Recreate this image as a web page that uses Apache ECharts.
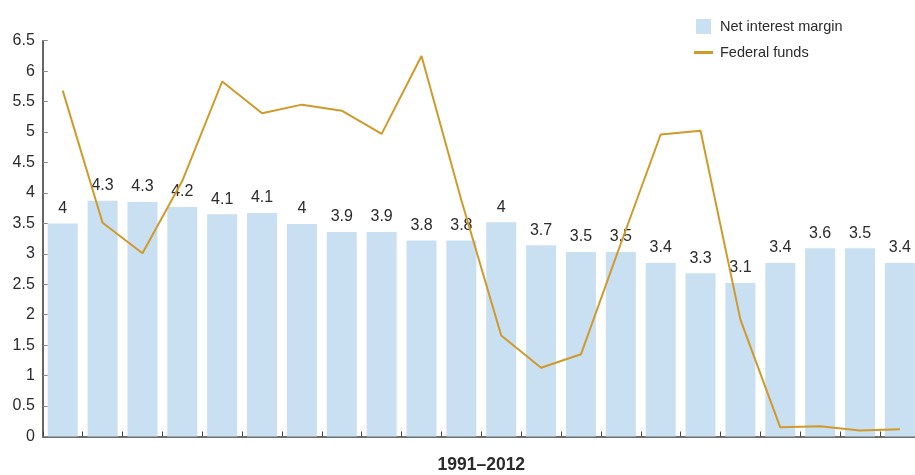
<!DOCTYPE html>
<html>
<head>
<meta charset="utf-8">
<script src="https://cdn.jsdelivr.net/npm/echarts@6/dist/echarts.min.js"></script>
<style>
html,body{margin:0;padding:0;background:#fff;}
#chart{width:915px;height:475px;}
</style>
</head>
<body>
<div id="chart"></div>
<script>
// years 1991-2012
var years = ['1991','1992','1993','1994','1995','1996','1997','1998','1999','2000','2001',
             '2002','2003','2004','2005','2006','2007','2008','2009','2010','2011','2012'];
// bar heights as drawn on the axis
var marginValues = [3.5,3.87,3.85,3.77,3.65,3.67,3.49,3.36,3.36,3.22,3.22,
                    3.52,3.14,3.03,3.03,2.85,2.68,2.52,2.85,3.09,3.09,2.85];
// text printed above each bar
var marginLabels = ['4','4.3','4.3','4.2','4.1','4.1','4','3.9','3.9','3.8','3.8',
                    '4','3.7','3.5','3.5','3.4','3.3','3.1','3.4','3.6','3.5','3.4'];
// federal funds rate
var fedFunds = [5.68,3.51,3.01,4.2,5.83,5.31,5.45,5.35,4.97,6.25,3.88,
                1.66,1.13,1.35,3.17,4.96,5.02,1.92,0.15,0.17,0.10,0.12];

var myChart = echarts.init(document.getElementById('chart'));

var textColor = '#2b2b2b';
var font = 'Liberation Sans';

var option = {
    animation: false,
    backgroundColor: '#fff',
    grid: {
        left: 42.8,
        right: -4.8,
        top: 40.7,
        bottom: 38.5,
        containLabel: false,
        outerBoundsMode: 'none'
    },
    legend: {
        orient: 'vertical',
        left: 689,
        top: 14,
        itemWidth: 19,
        itemHeight: 15,
        itemGap: 11,
        textStyle: {color: textColor, fontSize: 14.5, fontFamily: font, padding: [0, 0, 0, 2]},
        data: [
            {name: 'Net interest margin', icon: 'path://M0,0H10V10H0Z'},
            {name: 'Federal funds', icon: 'path://M0,0H19V3H0Z'}
        ]
    },
    xAxis: {
        type: 'category',
        data: years,
        name: '1991\u20132012',
        nameLocation: 'middle',
        nameGap: 20,
        nameTextStyle: {color: textColor, fontSize: 17.5, fontWeight: 'bold', fontFamily: font},
        axisLine: {lineStyle: {color: '#6e6e6e', width: 2}},
        axisTick: {show: true, inside: true, length: 5, lineStyle: {color: '#444', width: 1}},
        axisLabel: {show: false},
        splitLine: {show: false}
    },
    yAxis: {
        type: 'value',
        min: 0,
        max: 6.5,
        interval: 0.5,
        axisLine: {show: true, lineStyle: {color: '#333', width: 1.5}},
        axisTick: {show: true, inside: true, length: 5, lineStyle: {color: '#888'}},
        axisLabel: {color: textColor, fontSize: 16, fontFamily: font, margin: 8},
        splitLine: {show: false}
    },
    series: [
        {
            name: 'Net interest margin',
            type: 'bar',
            data: marginValues,
            barWidth: 30,
            itemStyle: {color: '#c9dff2'},
            label: {
                show: true,
                position: 'top',
                distance: 7,
                color: textColor,
                fontSize: 16,
                fontFamily: font,
                formatter: function (p) { return marginLabels[p.dataIndex]; }
            },
            z: 2
        },
        {
            name: 'Federal funds',
            type: 'line',
            data: fedFunds,
            symbol: 'none',
            lineStyle: {color: '#d09a2b', width: 2},
            itemStyle: {color: '#d09a2b'},
            z: 3
        }
    ]
};
myChart.setOption(option);
</script>
</body>
</html>
